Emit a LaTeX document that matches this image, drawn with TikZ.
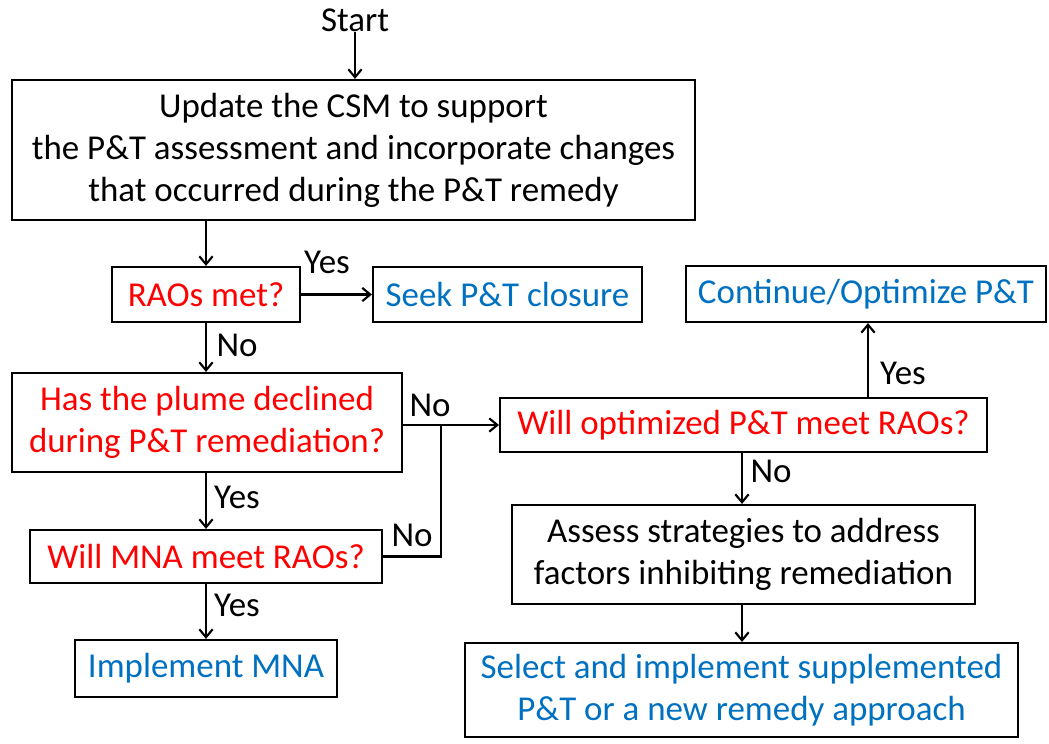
\documentclass[tikz,border=0pt]{standalone}
\usepackage{fontspec}
\setmainfont{Carlito}
\usetikzlibrary{arrows.meta}
\definecolor{qred}{HTML}{FF0000}
\definecolor{qblue}{HTML}{0070C0}
\begin{document}
\begin{tikzpicture}[x=0.75pt,y=-0.75pt,
  every node/.style={font=\fontsize{26.2}{31.5}\selectfont},
  box/.style={draw, line width=1.6pt, align=center, inner sep=1pt},
  q/.style={box, text=qred},
  a/.style={box, text=qblue},
  arr/.style={line width=1.6pt, -{Straight Barb[length=6pt,width=10pt,line width=1.6pt]}},
  ln/.style={line width=1.6pt},
  lbl/.style={inner sep=0pt}]
\useasboundingbox (0,0) rectangle (1049,743);
\node[lbl] (start) at (355,20) {Start};
\node[box, minimum width={683*0.75pt}, minimum height={140*0.75pt}] (csm) at (353.5,150)
  {Update the CSM to support\\ the P\&T assessment and incorporate changes\\ that occurred during the P\&T remedy};
\node[q, minimum width={188*0.75pt}, minimum height={55*0.75pt}] (raos) at (206,294.5) {RAOs met?};
\node[a, minimum width={269*0.75pt}, minimum height={55*0.75pt}] (seek) at (507.5,294.5) {Seek P\&T closure};
\node[q, minimum width={390*0.75pt}, minimum height={99*0.75pt}] (plume) at (207,422.5) {Has the plume declined\\ during P\&T remediation?};
\node[q, minimum width={352*0.75pt}, minimum height={53*0.75pt}] (mna) at (206,556.5) {Will MNA meet RAOs?};
\node[a, minimum width={262*0.75pt}, minimum height={57*0.75pt}] (impl) at (206,668.5) {Implement MNA};
\node[a, minimum width={360*0.75pt}, minimum height={56*0.75pt}] (cont) at (866,294) {Continue/Optimize P\&T};
\node[q, minimum width={487*0.75pt}, minimum height={54*0.75pt}] (wopt) at (743.5,425) {Will optimized P\&T meet RAOs?};
\node[box, minimum width={463*0.75pt}, minimum height={99*0.75pt}] (assess) at (743.5,554.5) {Assess strategies to address\\ factors inhibiting remediation};
\node[a, minimum width={553*0.75pt}, minimum height={94*0.75pt}] (sel) at (741.5,690) {Select and implement supplemented\\ P\&T or a new remedy approach};
\coordinate (j) at (441,425);
\draw[arr] (start.south) -- (start.south |- csm.north);
\draw[arr] (csm.south -| raos) -- (raos.north);
\draw[arr] (raos.east) -- (seek.west);
\draw[arr] (raos.south) -- (raos.south |- plume.north);
\draw[arr] (plume.east |- wopt) -- (wopt.west);
\draw[ln] (mna.east) -| (j);
\draw[arr] (plume.south -| mna) -- (mna.north);
\draw[arr] (mna.south) -- (impl.north);
\draw[arr] (wopt.north -| 868,0) -- (cont.south -| 868,0);
\draw[arr] (wopt.south -| 742,0) -- (assess.north -| 742,0);
\draw[arr] (assess.south -| 742,0) -- (sel.north -| 742,0);
\node[lbl] (l1) at (327,262) {Yes};
\node[lbl] (l2) at (237,345) {No};
\node[lbl] (l3) at (430,405) {No};
\node[lbl] (l4) at (237,497) {Yes};
\node[lbl] (l5) at (412,535) {No};
\node[lbl] (l6) at (237,605) {Yes};
\node[lbl] (l7) at (903,373) {Yes};
\node[lbl] (l8) at (771,471) {No};
\end{tikzpicture}
\end{document}
